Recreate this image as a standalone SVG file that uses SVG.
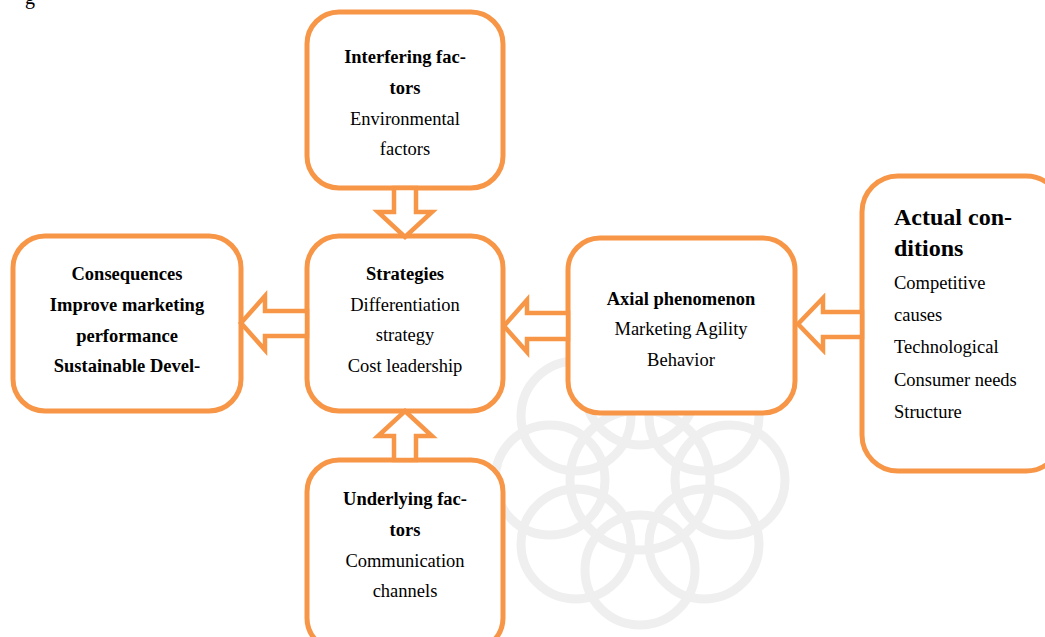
<svg xmlns="http://www.w3.org/2000/svg" width="1045" height="637" viewBox="0 0 1045 637">
<style>
.box{fill:#fff;stroke:#F79646;stroke-width:5}
.arr{fill:#fff;stroke:#F79646;stroke-width:4.5;stroke-linejoin:miter}
.t{font-family:"Liberation Serif","DejaVu Serif",serif;font-size:18.5px;fill:#000}
.b{font-weight:bold}
.c{text-anchor:middle}
.h{font-size:24px}
.wm{fill:none;stroke:#efefef;stroke-width:9}
</style>
<rect width="1045" height="637" fill="#fff"/>
<text class="t" x="25" y="4" style="font-size:20px">g</text>
<g id="watermark" class="wm">
<circle cx="640" cy="480" r="70"/>
<circle cx="730" cy="480" r="55"/>
<circle cx="550" cy="480" r="55"/>
<circle cx="640" cy="390" r="55"/>
<circle cx="640" cy="570" r="55"/>
<circle cx="704" cy="416" r="55"/>
<circle cx="576" cy="416" r="55"/>
<circle cx="704" cy="544" r="55"/>
<circle cx="576" cy="544" r="55"/>
</g>
<g id="interfering">
<rect class="box" x="307" y="12" width="196" height="176" rx="32"/>
<text class="t c b" x="405" y="63">Interfering fac-</text>
<text class="t c b" x="405" y="94">tors</text>
<text class="t c" x="405" y="125">Environmental</text>
<text class="t c" x="405" y="155">factors</text>
</g>
<g id="strategies">
<rect class="box" x="307" y="236" width="196" height="175" rx="32"/>
<text class="t c b" x="405" y="280">Strategies</text>
<text class="t c" x="405" y="311">Differentiation</text>
<text class="t c" x="405" y="341">strategy</text>
<text class="t c" x="405" y="372">Cost leadership</text>
</g>
<g id="consequences">
<rect class="box" x="13" y="236" width="228" height="175" rx="32"/>
<text class="t c b" x="127" y="280">Consequences</text>
<text class="t c b" x="127" y="311">Improve marketing</text>
<text class="t c b" x="127" y="342">performance</text>
<text class="t c b" x="127" y="372">Sustainable Devel-</text>
</g>
<g id="axial">
<rect class="box" x="568" y="238" width="227" height="175" rx="32"/>
<text class="t c b" x="681" y="305">Axial phenomenon</text>
<text class="t c" x="681" y="335">Marketing Agility</text>
<text class="t c" x="681" y="366">Behavior</text>
</g>
<g id="actual">
<rect class="box" x="862" y="176" width="200" height="295" rx="36"/>
<text class="t b h" x="894" y="225">Actual con-</text>
<text class="t b h" x="894" y="256">ditions</text>
<text class="t" x="894" y="289">Competitive</text>
<text class="t" x="894" y="321">causes</text>
<text class="t" x="894" y="353">Technological</text>
<text class="t" x="894" y="386">Consumer needs</text>
<text class="t" x="894" y="418">Structure</text>
</g>
<g id="underlying">
<rect class="box" x="307" y="460" width="196" height="190" rx="32"/>
<text class="t c b" x="405" y="505">Underlying fac-</text>
<text class="t c b" x="405" y="536">tors</text>
<text class="t c" x="405" y="567">Communication</text>
<text class="t c" x="405" y="597">channels</text>
</g>
<g id="connectors">
<polygon class="arr" points="394,188 416,188 416,212 432,212 405,237 378,212 394,212"/>
<polygon class="arr" points="394,460 416,460 416,436 432,436 405,411 378,436 394,436"/>
<polygon class="arr" points="307,311 265,311 265,296 241,323 265,350 265,336 307,336"/>
<polygon class="arr" points="568,313 527,313 527,300 504,326 527,352 527,339 568,339"/>
<polygon class="arr" points="862,312 823,312 823,298 798,324 823,350 823,337 862,337"/>
</g>
</svg>
